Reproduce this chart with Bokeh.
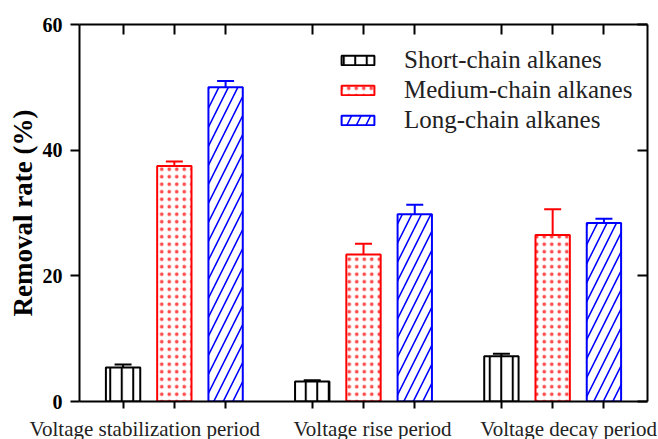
from bokeh.plotting import figure
from bokeh.models import (FactorRange, ColumnDataSource, Whisker, TeeHead, Legend, LegendItem,
                          CategoricalAxis, LinearAxis, FixedTicker, Range1d)
from bokeh.core.properties import value
from bokeh.embed import file_html
from bokeh.resources import INLINE

# ---- data ----
periods = ["Voltage stabilization period", "Voltage rise period", "Voltage decay period"]
series_names = ["Short-chain alkanes", "Medium-chain alkanes", "Long-chain alkanes"]
short_vals = [5.4, 3.2, 7.2]
short_err = [0.5, 0.2, 0.4]
medium_vals = [37.5, 23.4, 26.5]
medium_err = [0.7, 1.7, 4.1]
long_vals = [50.0, 29.8, 28.4]
long_err = [1.0, 1.5, 0.7]
y_ticks = [0, 20, 40, 60]
y_label = "Removal rate (%)"

# ---- style ----
FONT = "Liberation Serif"
colors = ["black", "red", "blue"]
hatches = ["vertical_line", "dot", "right_diagonal_line"]
hatch_scales = [11.5, 7.5, 19]
hatch_weights = [2, 0.6, 1.6]
hatch_alphas = [1.0, 0.7, 1.0]
label_shift = [-29.5, 9, 16]


def hide_labels(axis):
    axis.major_label_text_font_size = "0px"
    axis.major_label_text_color = None
    axis.major_label_standoff = 0
    if isinstance(axis, CategoricalAxis):
        axis.group_text_font_size = "0px"
        axis.group_text_color = None
        axis.subgroup_text_font_size = "0px"
        axis.subgroup_text_color = None
        axis.separator_line_color = None


factors = [(per, s) for per in periods for s in series_names]
x_range = FactorRange(*factors, group_padding=0.69, range_padding=0.35,
                      range_padding_units="absolute")

p = figure(x_range=x_range, y_range=Range1d(0, 60), width=658, height=439,
           output_backend="svg", toolbar_location=None,
           min_border_left=79, min_border_right=11, min_border_top=24, min_border_bottom=38)
p.outline_line_color = None
p.xgrid.grid_line_color = None
p.ygrid.grid_line_color = None
p.background_fill_color = "white"
p.border_fill_color = "white"

# bottom axis
xa = p.xaxis[0]
xa.major_tick_out = 7
xa.major_tick_in = 0
xa.major_tick_line_width = 2
xa.axis_line_width = 2
xa.axis_line_color = "black"
xa.major_tick_line_color = "black"
hide_labels(xa)

# left axis
ya = p.yaxis[0]
ya.ticker = FixedTicker(ticks=y_ticks)
ya.minor_tick_line_color = None
ya.major_tick_out = 9
ya.major_tick_in = 0
ya.major_tick_line_width = 2
ya.axis_line_width = 2
ya.axis_line_color = "black"
ya.major_tick_line_color = "black"
ya.major_label_text_font = FONT
ya.major_label_text_font_style = "bold"
ya.major_label_text_font_size = "20px"
ya.major_label_text_color = "black"
ya.major_label_standoff = 8
ya.axis_label = y_label
ya.axis_label_text_font = FONT
ya.axis_label_text_font_style = "bold"
ya.axis_label_text_font_size = "27px"
ya.axis_label_text_color = "black"
ya.axis_label_standoff = 2

# top axis (mirror ticks inward)
top_axis = CategoricalAxis(major_tick_in=10, major_tick_out=0, major_tick_line_width=2,
                           axis_line_width=2)
hide_labels(top_axis)
p.add_layout(top_axis, "above")

# right axis (mirror ticks inward)
right_axis = LinearAxis(ticker=FixedTicker(ticks=y_ticks), major_tick_in=10, major_tick_out=0,
                        major_tick_line_width=2, axis_line_width=2,
                        minor_tick_line_color=None)
hide_labels(right_axis)
p.add_layout(right_axis, "right")

vals_all = [short_vals, medium_vals, long_vals]
errs_all = [short_err, medium_err, long_err]
items = []
for i, s in enumerate(series_names):
    src = ColumnDataSource(dict(
        x=[(per, s) for per in periods],
        top=vals_all[i],
        upper=[v + e for v, e in zip(vals_all[i], errs_all[i])],
    ))
    r = p.vbar(x="x", top="top", width=0.67, source=src, fill_color="white",
               line_color=colors[i], line_width=2, hatch_pattern=hatches[i],
               hatch_color=colors[i], hatch_scale=hatch_scales[i],
               hatch_weight=hatch_weights[i], hatch_alpha=hatch_alphas[i])
    w = Whisker(base="x", lower="top", upper="upper", source=src, line_color=colors[i],
                line_width=2, lower_head=None,
                upper_head=TeeHead(size=17, line_color=colors[i], line_width=2))
    p.add_layout(w)
    items.append(LegendItem(label=s, renderers=[r]))

legend = Legend(items=items, location=(258, 267), glyph_width=41, glyph_height=12,
                label_standoff=26, label_text_font=FONT, label_text_font_size="25px",
                label_text_color="#222222", spacing=2, padding=0, margin=0,
                border_line_color=None, background_fill_alpha=0, label_height=12)
p.add_layout(legend)

lab_src = ColumnDataSource(dict(
    x=[(per, series_names[1]) for per in periods],
    y=[0] * len(periods),
    text=periods,
    xo=label_shift,
))
p.text(x="x", y="y", text="text", source=lab_src, x_offset="xo", y_offset=27,
       text_align="center", text_baseline="alphabetic", text_font=value(FONT),
       text_font_size="21px", text_color="#222222", level="overlay")

open("out.html", "w").write(file_html(p, INLINE))
